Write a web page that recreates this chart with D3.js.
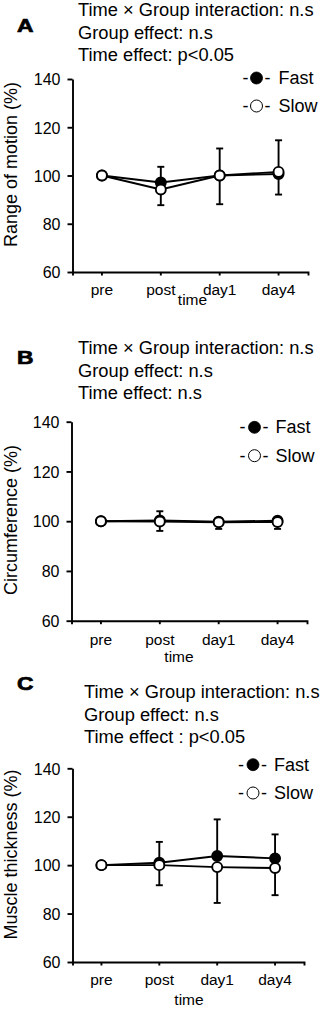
<!DOCTYPE html>
<html>
<head>
<meta charset="utf-8">
<script src="https://cdn.jsdelivr.net/npm/d3@7"></script>
<style>
  html, body { margin: 0; padding: 0; background: #fff; }
  svg { display: block; }
  text { font-family: "Liberation Sans", Arial, sans-serif; fill: #000; }
</style>
</head>
<body>
<svg id="chart" width="325" height="1009"></svg>
<script>
// ---------------- data ----------------
const categories = ["pre", "post", "day1", "day4"];
const yTicks = [60, 80, 100, 120, 140];
const panelLetters = ["A", "B", "C"];
const yLabels = ["Range of motion (%)", "Circumference (%)", "Muscle thickness (%)"];
const xLabel = "time";
const seriesNames = ["Fast", "Slow"];
const statsA = ["Time \u00D7 Group interaction: n.s", "Group effect: n.s", "Time effect: p<0.05"];
const statsB = ["Time \u00D7 Group interaction: n.s", "Group effect: n.s", "Time effect: n.s"];
const statsC = ["Time \u00D7 Group interaction: n.s", "Group effect: n.s", "Time effect : p<0.05"];

// means (%) and one-sided SD (Fast shown upward, Slow shown downward)
const fastA = [100, 97.1, 100.0, 100.6];
const fastErrA = [0, 6.5, 11.2, 14.0];
const slowA = [100, 94.2, 100.0, 101.5];
const slowErrA = [0, 6.5, 11.9, 9.4];

const fastB = [100, 100.3, 99.8, 100.2];
const fastErrB = [0, 3.7, 1.5, 1.5];
const slowB = [100, 99.9, 99.6, 99.7];
const slowErrB = [0, 3.8, 2.7, 2.8];

const fastC = [100, 101.0, 103.8, 102.8];
const fastErrC = [0, 8.6, 15.1, 9.9];
const slowC = [100, 100.0, 99.2, 98.8];
const slowErrC = [0, 8.3, 14.8, 11.2];

// ---------------- layout ----------------
const panels = [
  { letter: panelLetters[0], ylab: yLabels[0], stats: statsA,
    fast: fastA, fastErr: fastErrA, slow: slowA, slowErr: slowErrA,
    left: 72.5, right: 308, yTop: 79, yBot: 272,
    letterY: 32, statX: 78, statY: [16, 38.5, 61],
    legX: 242.5, legCx: 256.5, legDash2: 264.5, legText: 278.5, legY: [84, 112],
    ylabY: 164.5, catY: 294.5, timeX: 192.5, timeY: 305 },
  { letter: panelLetters[1], ylab: yLabels[1], stats: statsB,
    fast: fastB, fastErr: fastErrB, slow: slowB, slowErr: slowErrB,
    left: 71.5, right: 307, yTop: 421.7, yBot: 620.7,
    letterY: 364, statX: 78, statY: [354, 376.7, 399],
    legX: 239.5, legCx: 254.5, legDash2: 262.5, legText: 275.5, legY: [433.3, 461.7],
    ylabY: 520, catY: 644.5, timeX: 179, timeY: 662 },
  { letter: panelLetters[2], ylab: yLabels[2], stats: statsC,
    fast: fastC, fastErr: fastErrC, slow: slowC, slowErr: slowErrC,
    left: 72.5, right: 304, yTop: 768.3, yBot: 962,
    letterY: 689.5, statX: 84, statY: [698.3, 720.7, 743.3],
    legX: 238, legCx: 253, legDash2: 261, legText: 274, legY: [770.7, 799],
    ylabY: 854.5, catY: 985, timeX: 189, timeY: 1005 }
];

const svg = d3.select("#chart");
const SW = 1.9;
const R = 5;

panels.forEach(p => {
  const g = svg.append("g");
  const x = d3.scaleBand().domain(categories).range([p.left, p.right]).padding(0);
  const y = d3.scaleLinear().domain([60, 140]).range([p.yBot, p.yTop]);
  const cx = c => x(c) + x.bandwidth() / 2;

  // panel letter
  g.append("text").attr("x", 17).attr("y", p.letterY)
    .attr("font-size", 18.5).attr("font-weight", "bold")
    .attr("textLength", 16.5).attr("lengthAdjust", "spacingAndGlyphs")
    .attr("stroke", "#000").attr("stroke-width", 0.7)
    .text(p.letter);

  // stats lines
  g.selectAll("text.stat").data(p.stats).join("text")
    .attr("class", "stat")
    .attr("x", p.statX).attr("y", (d, i) => p.statY[i])
    .attr("font-size", 18.3)
    .text(d => d);

  // y axis
  const ya = g.append("g").attr("transform", `translate(${p.left},0)`)
    .call(d3.axisLeft(y).tickValues(yTicks).tickSize(5).tickSizeOuter(0).tickPadding(7));
  ya.select(".domain").attr("stroke-width", SW);
  ya.selectAll(".tick line").attr("stroke-width", SW);
  ya.selectAll(".tick text").attr("font-size", 16).attr("font-family", '"Liberation Sans", Arial, sans-serif')
    .attr("dy", "0.36em");

  // x axis
  const xa = g.append("g").attr("transform", `translate(0,${p.yBot})`)
    .call(d3.axisBottom(x).tickSize(3.5).tickSizeOuter(3.5).tickPadding(0));
  xa.select(".domain").attr("stroke-width", SW);
  xa.selectAll(".tick line").attr("stroke-width", SW);
  xa.selectAll(".tick text").remove();

  // category labels
  g.selectAll("text.cat").data(categories).join("text")
    .attr("class", "cat")
    .attr("x", d => cx(d)).attr("y", p.catY)
    .attr("text-anchor", "middle").attr("font-size", 15.5)
    .text(d => d);

  g.append("text").attr("x", p.timeX).attr("y", p.timeY)
    .attr("text-anchor", "middle").attr("font-size", 15.5).text(xLabel);

  // y label
  g.append("text")
    .attr("transform", `translate(16.5,${p.ylabY}) rotate(-90)`)
    .attr("text-anchor", "middle").attr("font-size", 18)
    .text(p.ylab);

  // error bars
  const fastPts = categories.map((c, i) => ({ c, v: p.fast[i], e: p.fastErr[i] }));
  const slowPts = categories.map((c, i) => ({ c, v: p.slow[i], e: p.slowErr[i] }));
  const drawErr = (pts, dir) => {
    const eg = g.append("g").attr("stroke", "#000").attr("stroke-width", SW);
    pts.filter(d => d.e > 0).forEach(d => {
      const y0 = y(d.v), y1 = y(d.v + dir * d.e);
      eg.append("line").attr("x1", cx(d.c)).attr("x2", cx(d.c)).attr("y1", y0).attr("y2", y1);
      eg.append("line").attr("x1", cx(d.c) - 3.5).attr("x2", cx(d.c) + 3.5).attr("y1", y1).attr("y2", y1);
    });
  };
  drawErr(fastPts, 1);
  drawErr(slowPts, -1);

  // lines
  const line = d3.line().x(d => cx(d.c)).y(d => y(d.v));
  g.append("path").datum(fastPts).attr("d", line).attr("fill", "none").attr("stroke", "#000").attr("stroke-width", SW);
  g.append("path").datum(slowPts).attr("d", line).attr("fill", "none").attr("stroke", "#000").attr("stroke-width", SW);

  // points
  g.selectAll("circle.fast").data(fastPts).join("circle").attr("class", "fast")
    .attr("cx", d => cx(d.c)).attr("cy", d => y(d.v)).attr("r", R)
    .attr("fill", "#000").attr("stroke", "#000").attr("stroke-width", SW);
  g.selectAll("circle.slow").data(slowPts).join("circle").attr("class", "slow")
    .attr("cx", d => cx(d.c)).attr("cy", d => y(d.v)).attr("r", R)
    .attr("fill", "#fff").attr("stroke", "#000").attr("stroke-width", SW);

  // legend
  seriesNames.forEach((name, i) => {
    const by = p.legY[i];
    g.append("text").attr("x", p.legX).attr("y", by).attr("font-size", 18).text("-");
    g.append("circle").attr("cx", p.legCx).attr("cy", by - 6).attr("r", 6)
      .attr("fill", i === 0 ? "#000" : "#fff").attr("stroke", "#000").attr("stroke-width", i === 0 ? 0.8 : 1);
    g.append("text").attr("x", p.legDash2).attr("y", by).attr("font-size", 18).text("-");
    g.append("text").attr("x", p.legText).attr("y", by).attr("font-size", 18).text(name);
  });
});
</script>
</body>
</html>
